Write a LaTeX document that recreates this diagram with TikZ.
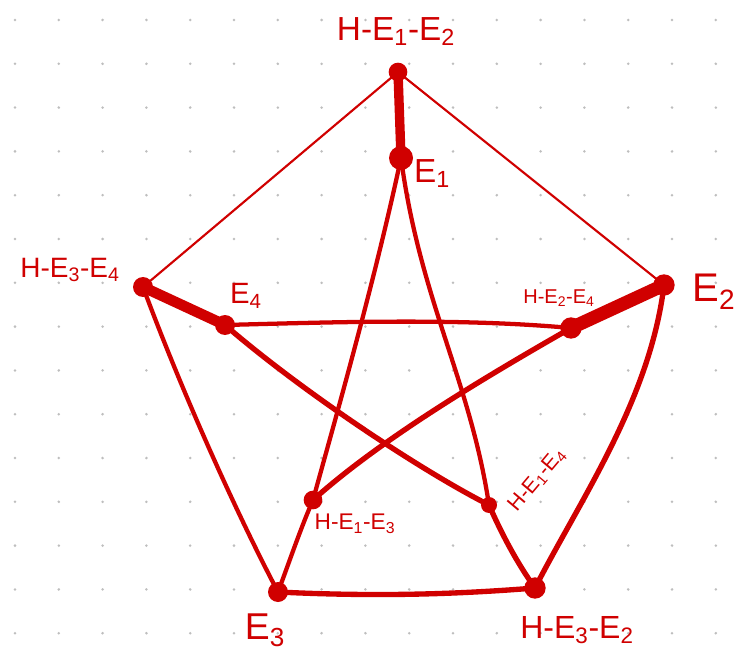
\documentclass[tikz,border=0pt]{standalone}
\usepackage{fontspec}
\setmainfont{Liberation Sans}
\definecolor{ink}{RGB}{208,0,0}
\definecolor{griddot}{RGB}{190,190,190}
\tikzset{
  vtx/.style={circle,fill=ink,inner sep=0pt,minimum size=#1},
  vtx/.default=14px,
  edge/.style={draw=ink,line width=#1,line cap=round,line join=round},
  lbl/.style={text=ink,inner sep=0pt,font=#1},
}
\begin{document}
\begin{tikzpicture}[x=0.75pt,y=-0.75pt]
\useasboundingbox (0,0) rectangle (735,652);
\fill[white] (0,0) rectangle (735,652);
% dotted grid
\foreach \i in {0,...,16}{
  \foreach \j in {0,...,14}{
    \fill[griddot] ({15+43.8*\i},{20+43.8*\j}) circle (1.4);
  }
}
% vertices
\node[vtx=14] (t)   at (398,72) {};
\node[vtx=18] (e1)  at (401,158) {};
\node[vtx=16] (e2)  at (664,285) {};
\node[vtx=16] (h24) at (571,328) {};
\node[vtx=15] (l)   at (143,287) {};
\node[vtx=15] (e4)  at (225,325) {};
\node[vtx=15] (e3)  at (278,592) {};
\node[vtx=14] (h13) at (313,500) {};
\node[vtx=16] (br)  at (535,588) {};
\node[vtx=12] (h14) at (489,505) {};
% outer cycle
\draw[edge=1.6] (t.center) -- (e2.center);
\draw[edge=1.6] (t.center) -- (l.center);
\draw[edge=3.2] (l.center) .. controls (185,400) and (240,520) .. (e3.center);
\draw[edge=4] (e3.center) .. controls (380,597) and (460,594) .. (br.center);
\draw[edge=4] (br.center) .. controls (580,500) and (650,400) .. (e2.center);
% spokes
\draw[edge=7] (t.center) -- (e1.center);
\draw[edge=10] (e2.center) -- (h24.center);
\draw[edge=8] (l.center) -- (e4.center);
\draw[edge=3.2] (e3.center) .. controls (290,560) and (300,530) .. (h13.center);
\draw[edge=4] (br.center) .. controls (515,560) and (500,530) .. (h14.center);
% inner star
\draw[edge=3.2] (e1.center) .. controls (375,280) and (335,420) .. (h13.center);
\draw[edge=3.2] (e1.center) .. controls (420,300) and (470,380) .. (h14.center);
\draw[edge=3.2] (e4.center) .. controls (340,322) and (460,318) .. (h24.center);
\draw[edge=4] (h24.center) .. controls (480,380) and (380,440) .. (h13.center);
\draw[edge=4] (e4.center) .. controls (300,390) and (420,470) .. (h14.center);
% labels
\node[lbl={\fontsize{25}{25}\selectfont}] (lt) at (396,32) {H-E\textsubscript{1}-E\textsubscript{2}};
\node[lbl={\fontsize{25}{25}\selectfont}] (le1) at (432,174) {E\textsubscript{1}};
\node[lbl={\fontsize{21}{21}\selectfont}] (ll) at (70,270) {H-E\textsubscript{3}-E\textsubscript{4}};
\node[lbl={\fontsize{22}{22}\selectfont}] (le4) at (246,296) {E\textsubscript{4}};
\node[lbl={\fontsize{15}{15}\selectfont}] (lh24) at (559,298) {H-E\textsubscript{2}-E\textsubscript{4}};
\node[lbl={\fontsize{30}{30}\selectfont}] (le2) at (714,292) {E\textsubscript{2}};
\node[lbl={\fontsize{17}{17}\selectfont}] (lh13) at (355,524) {H-E\textsubscript{1}-E\textsubscript{3}};
\node[lbl={\fontsize{16}{16}\selectfont},rotate=50] (lh14) at (537,480) {H-E\textsubscript{1}-E\textsubscript{4}};
\node[lbl={\fontsize{28}{28}\selectfont}] (le3) at (265,630) {E\textsubscript{3}};
\node[lbl={\fontsize{24}{24}\selectfont}] (lbr) at (577,630) {H-E\textsubscript{3}-E\textsubscript{2}};
\end{tikzpicture}
\end{document}
